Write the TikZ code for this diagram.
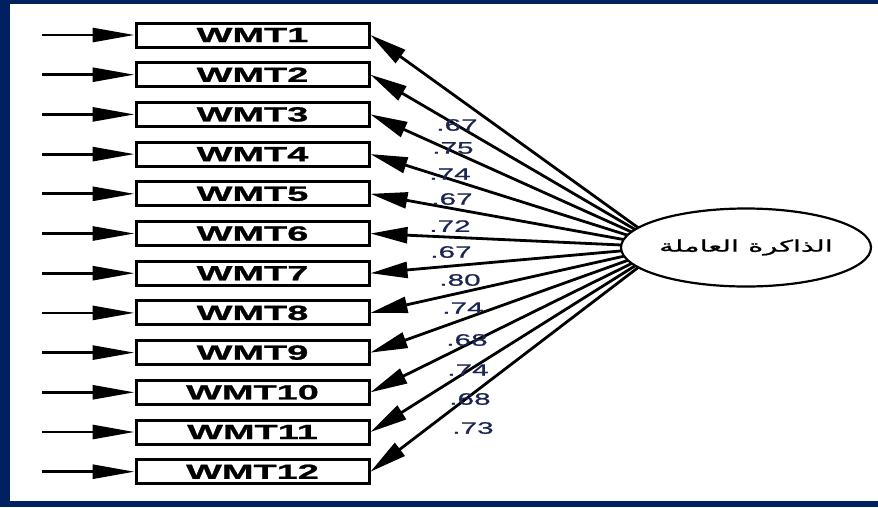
\documentclass[tikz,border=0pt]{standalone}
\usepackage{fontspec}
\usetikzlibrary{arrows.meta,shapes.geometric}
\setmainfont{Liberation Sans}
\newfontfamily\boxfont[FakeStretch=1.85,FakeBold=1.2]{Liberation Sans}
\newfontfamily\numfont[FakeStretch=1.8,FakeBold=0.9]{Liberation Sans}
\newfontfamily\arabicfont[Script=Arabic,FakeStretch=1.8,FakeBold=1.2]{DejaVu Sans}
\TeXXeTstate=1
\definecolor{framecol}{HTML}{002060}
\definecolor{numcol}{HTML}{1C2550}

\begin{document}
\begin{tikzpicture}[x=1pt,y=-1pt,
  item/.style={draw,line width=3pt,minimum width=233pt,minimum height=24pt,inner sep=0pt,
    font=\boxfont\bfseries\fontsize{20.5}{20.5}\selectfont},
  feed/.style={line width=2.8pt,-{Triangle[length=42pt,width=14pt]}},
  load/.style={line width=2.8pt,-{Triangle[length=37pt,width=16pt]}},
  coef/.style={font=\numfont\fontsize{16.5}{16.5}\selectfont,text=numcol,inner sep=0pt},
  factor/.style={draw,fill=white,line width=2.2pt,ellipse,minimum width=250pt,minimum height=78pt,inner sep=0pt},
]
\useasboundingbox (0,0) rectangle (878,507);
% frame bands
\fill[framecol] (0,0) rectangle (878,4);
\fill[framecol] (0,0) rectangle (10,507);
\fill[framecol] (0,501) rectangle (878,507);

% indicator boxes with their error inputs
\foreach \i in {1,...,12} {
  \node[item] (b\i) at (252.5, {35+(\i-1)*39.7}) {WMT\i};
  \coordinate (s\i) at (42, {35+(\i-1)*39.7});
  \draw[feed] (s\i) -- (b\i.west);
}

% loadings fan out from the latent factor
\coordinate (F) at (665,247);
\foreach \i in {1,...,12} \draw[load] (F) -- (b\i.east);

\node[factor] (ell) at (746,247.5) {\arabicfont\fontsize{16}{16}\selectfont\beginR الذاكرة العاملة\endR};

% standardized loadings
\node[coef] (l1)  at (457,125) {.67};
\node[coef] (l2)  at (453,148) {.75};
\node[coef] (l3)  at (450,174) {.74};
\node[coef] (l4)  at (452,199) {.67};
\node[coef] (l5)  at (450,226) {.72};
\node[coef] (l6)  at (451,252) {.67};
\node[coef] (l7)  at (460,280) {.80};
\node[coef] (l8)  at (463,308) {.74};
\node[coef] (l9)  at (467,340) {.68};
\node[coef] (l10) at (468,370) {.74};
\node[coef] (l11) at (470,399) {.68};
\node[coef] (l12) at (473,428) {.73};
\end{tikzpicture}
\end{document}
